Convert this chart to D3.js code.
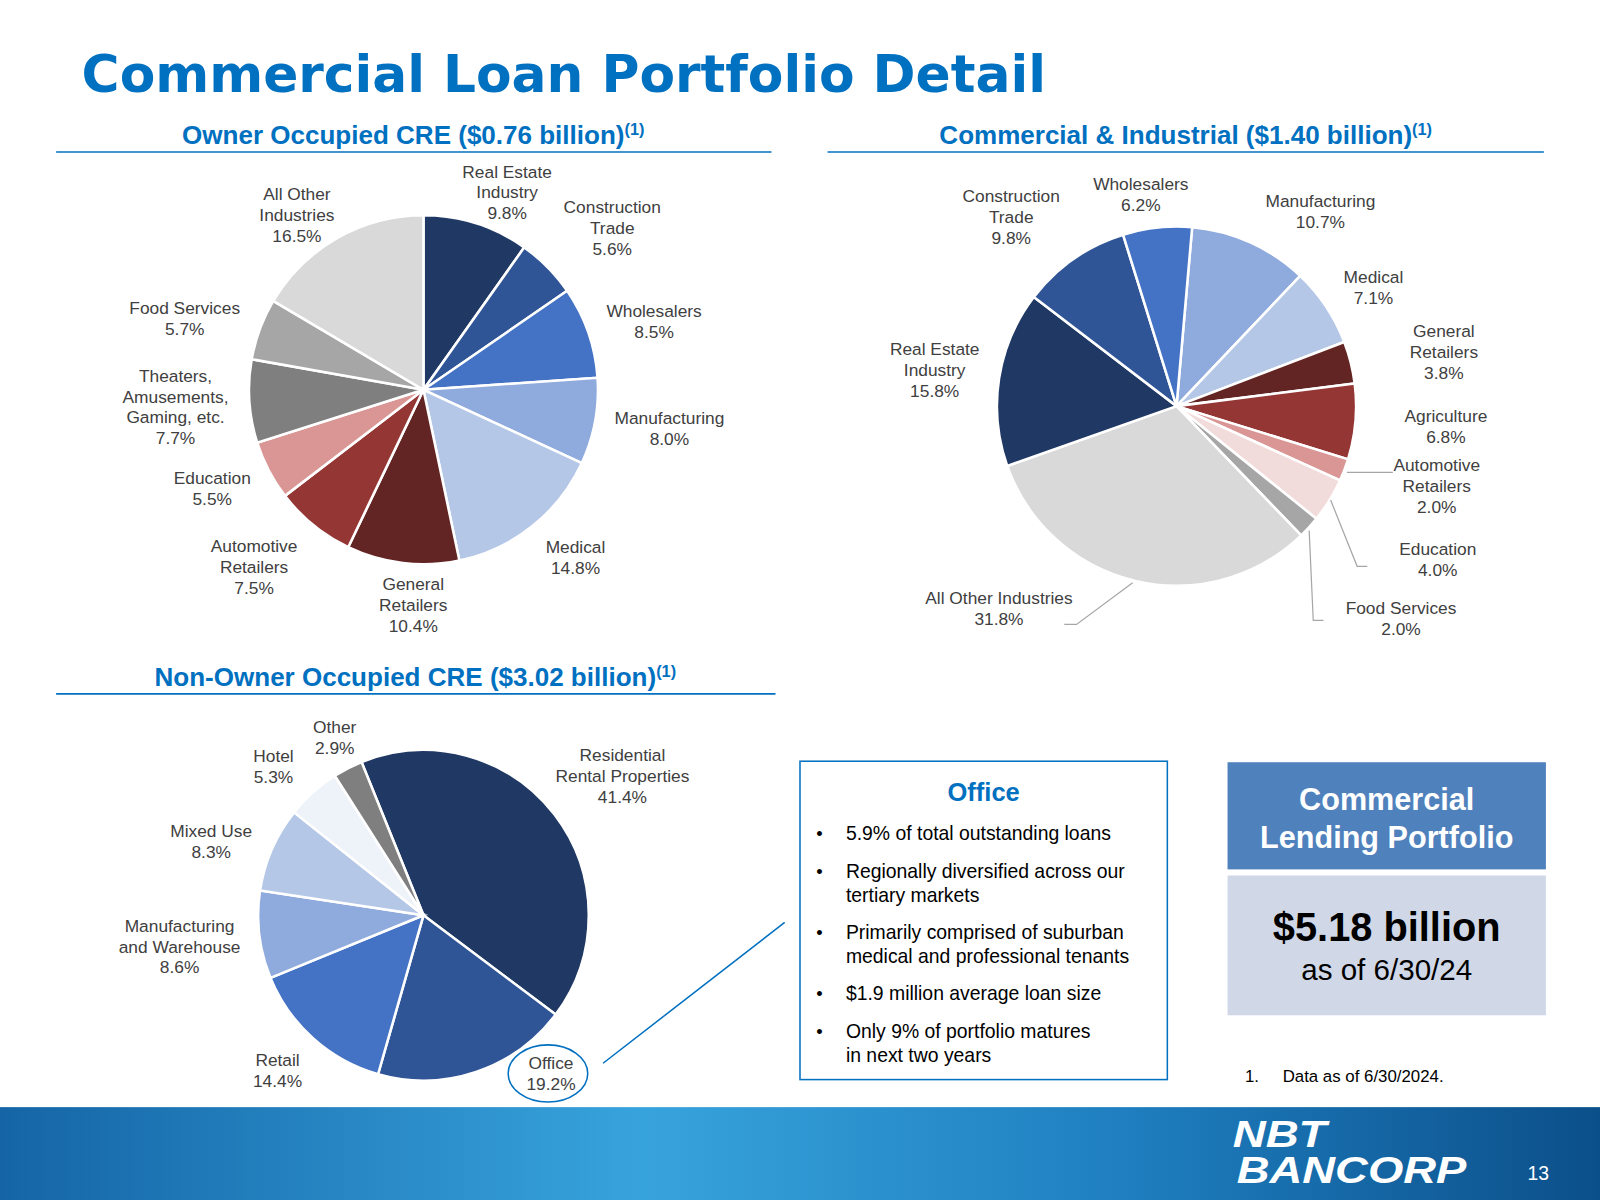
<!DOCTYPE html><html><head><meta charset="utf-8">
<script src="https://cdn.jsdelivr.net/npm/d3@7"></script>
<style>body{margin:0;background:#fff}svg{display:block;font-family:Arial,"Liberation Sans",sans-serif}</style></head><body>
<svg id="c" width="1600" height="1200"></svg>
<script>
// Owner Occupied CRE
const ooCats=["Real Estate|Industry","Construction|Trade","Wholesalers","Manufacturing","Medical","General|Retailers","Automotive|Retailers","Education","Theaters,|Amusements,|Gaming, etc.","Food Services","All Other|Industries"];
const ooVals=[9.8,5.6,8.5,8.0,14.8,10.4,7.5,5.5,7.7,5.7,16.5];
const ooColors=["#1f3864","#2f5597","#4472c4","#8faadc","#b4c7e7","#632523","#943634","#d99694","#7f7f7f","#a6a6a6","#d9d9d9"];
const ooLabelPos=[[497,188],[600,223],[641,315],[656,420],[564,546],[405,592],[249,555],[208,478],[172,398],[181,312],[291,210]];
// Commercial & Industrial
const ciCats=["Manufacturing","Medical","General|Retailers","Agriculture","Automotive|Retailers","Education","Food Services","All Other Industries","Real Estate|Industry","Construction|Trade","Wholesalers"];
const ciVals=[10.7,7.1,3.8,6.8,2.0,4.0,2.0,31.8,15.8,9.8,6.2];
const ciColors=["#8faadc","#b4c7e7","#632523","#943634","#d99694","#f2dcdb","#a6a6a6","#d9d9d9","#1f3864","#2f5597","#4472c4"];
const ciLabelPos=[[1294,207],[1346,281],[1415,344],[1417,418],[1408,476],[1409,548],[1373,606],[979,596],[916,362],[991,212],[1118,190]];
// Non-Owner Occupied CRE
const noCats=["Residential|Rental Properties","Office","Retail","Manufacturing|and Warehouse","Mixed Use","Hotel","Other"];
const noVals=[41.4,19.2,14.4,8.6,8.3,5.3,2.9];
const noColors=["#1f3864","#2f5597","#4472c4","#8faadc","#b4c7e7","#eef3fa","#7f7f7f"];
const noLabelPos=[[610,760],[540,1052],[272,1049],[176,927],[207,824],[268,751],[328,722]];

const svg=d3.select("#c");
const g=svg.append("g").attr("transform","scale(1.0204)");
const blue="#0070c0";
g.append("text").attr("x",80).attr("y",90).attr("font-size",50).attr("font-weight",900).attr("fill",blue)
 .attr("font-family","'DejaVu Sans',Arial").attr("textLength",945).attr("lengthAdjust","spacingAndGlyphs").text("Commercial Loan Portfolio Detail");

function header(x,y,x1,x2,t){
  const tx=g.append("text").attr("x",x).attr("y",y).attr("text-anchor","middle").attr("font-size",25.5).attr("font-weight","bold").attr("fill",blue);
  tx.append("tspan").text(t);
  tx.append("tspan").attr("font-size",16).attr("dy",-9).text("(1)");
  g.append("line").attr("x1",x1).attr("x2",x2).attr("y1",y+8).attr("y2",y+8).attr("stroke",blue).attr("stroke-width",1.5);
}
header(405,141,55,756,"Owner Occupied CRE ($0.76 billion)");
header(1162,141,811,1513,"Commercial & Industrial ($1.40 billion)");
header(407,672,55,760,"Non-Owner Occupied CRE ($3.02 billion)");

function pie(cx,cy,r,vals,cols,cats,lp,start){
  const total=d3.sum(vals);
  const p=d3.pie().sort(null).startAngle(start).endAngle(start+2*Math.PI*total/100)(vals);
  const arc=d3.arc().innerRadius(0).outerRadius(r);
  const gg=g.append("g").attr("transform",`translate(${cx},${cy})`);
  gg.selectAll("path").data(p).join("path").attr("d",arc).attr("fill",(d,i)=>cols[i]).attr("stroke","#fff").attr("stroke-width",2.5);
  cats.forEach((c,i)=>{
    const lines=c.split("|").concat([vals[i].toFixed(1)+"%"]);
    const n=lines.length;
    const t=g.append("text").attr("x",lp[i][0]).attr("y",lp[i][1]-(n-1)*10+6).attr("text-anchor","middle").attr("font-size",17).attr("fill","#404040");
    lines.forEach((l,k)=>t.append("tspan").attr("x",lp[i][0]).attr("dy",k?20.5:0).text(l));
  });
}
pie(415,382,171,ooVals,ooColors,ooCats,ooLabelPos,0);
pie(1153,398,176,ciVals,ciColors,ciCats,ciLabelPos,5*Math.PI/180);
pie(415,897,162,noVals,noColors,noCats,noLabelPos,-22*Math.PI/180);

// leader lines C&I
const ll=[[[1320,463],[1365,463]],[[1304,490],[1330,555],[1340,555]],[[1283,520],[1287,608],[1297,608]],[[1110,571],[1055,612],[1043,612]]];
ll.forEach(pts=>g.append("path").attr("d",d3.line()(pts)).attr("fill","none").attr("stroke","#a6a6a6").attr("stroke-width",1.2));

// office highlight
g.append("ellipse").attr("cx",537).attr("cy",1052).attr("rx",39).attr("ry",28).attr("fill","none").attr("stroke",blue).attr("stroke-width",1.5);
g.append("line").attr("x1",591).attr("y1",1042).attr("x2",769).attr("y2",904).attr("stroke",blue).attr("stroke-width",1.5);

// office box
g.append("rect").attr("x",784).attr("y",746).attr("width",360).attr("height",312).attr("fill","#fff").attr("stroke",blue).attr("stroke-width",1.5);
g.append("text").attr("x",964).attr("y",785).attr("text-anchor","middle").attr("font-size",25).attr("font-weight","bold").attr("fill",blue).text("Office");
const bullets=[["5.9% of total outstanding loans"],["Regionally diversified across our","tertiary markets"],["Primarily comprised of suburban","medical and professional tenants"],["$1.9 million average loan size"],["Only 9% of portfolio matures","in next two years"]];
const by=[823,860,920,980,1017];
bullets.forEach((b,i)=>{
  g.append("text").attr("x",800).attr("y",by[i]).attr("font-size",18).attr("fill","#000").text("•");
  b.forEach((l,k)=>g.append("text").attr("x",829).attr("y",by[i]+k*23.5).attr("font-size",19).attr("fill","#000").text(l));
});

// right box
g.append("rect").attr("x",1203).attr("y",747).attr("width",312).attr("height",105).attr("fill","#4f81bd");
g.append("text").attr("x",1359).attr("y",794).attr("text-anchor","middle").attr("font-size",30).attr("font-weight","bold").attr("fill","#fff").text("Commercial");
g.append("text").attr("x",1359).attr("y",831).attr("text-anchor","middle").attr("font-size",30).attr("font-weight","bold").attr("fill","#fff").text("Lending Portfolio");
g.append("rect").attr("x",1203).attr("y",858).attr("width",312).attr("height",137).attr("fill","#d0d8e8");
g.append("text").attr("x",1359).attr("y",922).attr("text-anchor","middle").attr("font-size",39).attr("font-weight","bold").attr("fill","#000").text("$5.18 billion");
g.append("text").attr("x",1359).attr("y",960).attr("text-anchor","middle").attr("font-size",29).attr("fill","#000").text("as of 6/30/24");
g.append("text").attr("x",1220).attr("y",1060).attr("font-size",16.5).attr("fill","#000").text("1.");
g.append("text").attr("x",1257).attr("y",1060).attr("font-size",16.5).attr("fill","#000").text("Data as of 6/30/2024.");

// footer
const defs=svg.append("defs");
const lg=defs.append("linearGradient").attr("id","fg");
[["0%","#1565a6"],["40%","#37a3dc"],["70%","#1f7fc0"],["100%","#0b4f8a"]].forEach(s=>lg.append("stop").attr("offset",s[0]).attr("stop-color",s[1]));
g.append("rect").attr("x",0).attr("y",1085).attr("width",1570).attr("height",95).attr("fill","url(#fg)");
g.append("text").attr("x",1208).attr("y",1124).attr("font-size",36).attr("font-weight",900).attr("font-style","italic").attr("fill","#fff").attr("textLength",92).attr("lengthAdjust","spacingAndGlyphs").text("NBT");
g.append("text").attr("x",1212).attr("y",1159).attr("font-size",36).attr("font-weight",900).attr("font-style","italic").attr("fill","#fff").attr("textLength",225).attr("lengthAdjust","spacingAndGlyphs").text("BANCORP");
g.append("text").attr("x",1497).attr("y",1156).attr("font-size",19).attr("fill","#fff").text("13");
</script></body></html>
